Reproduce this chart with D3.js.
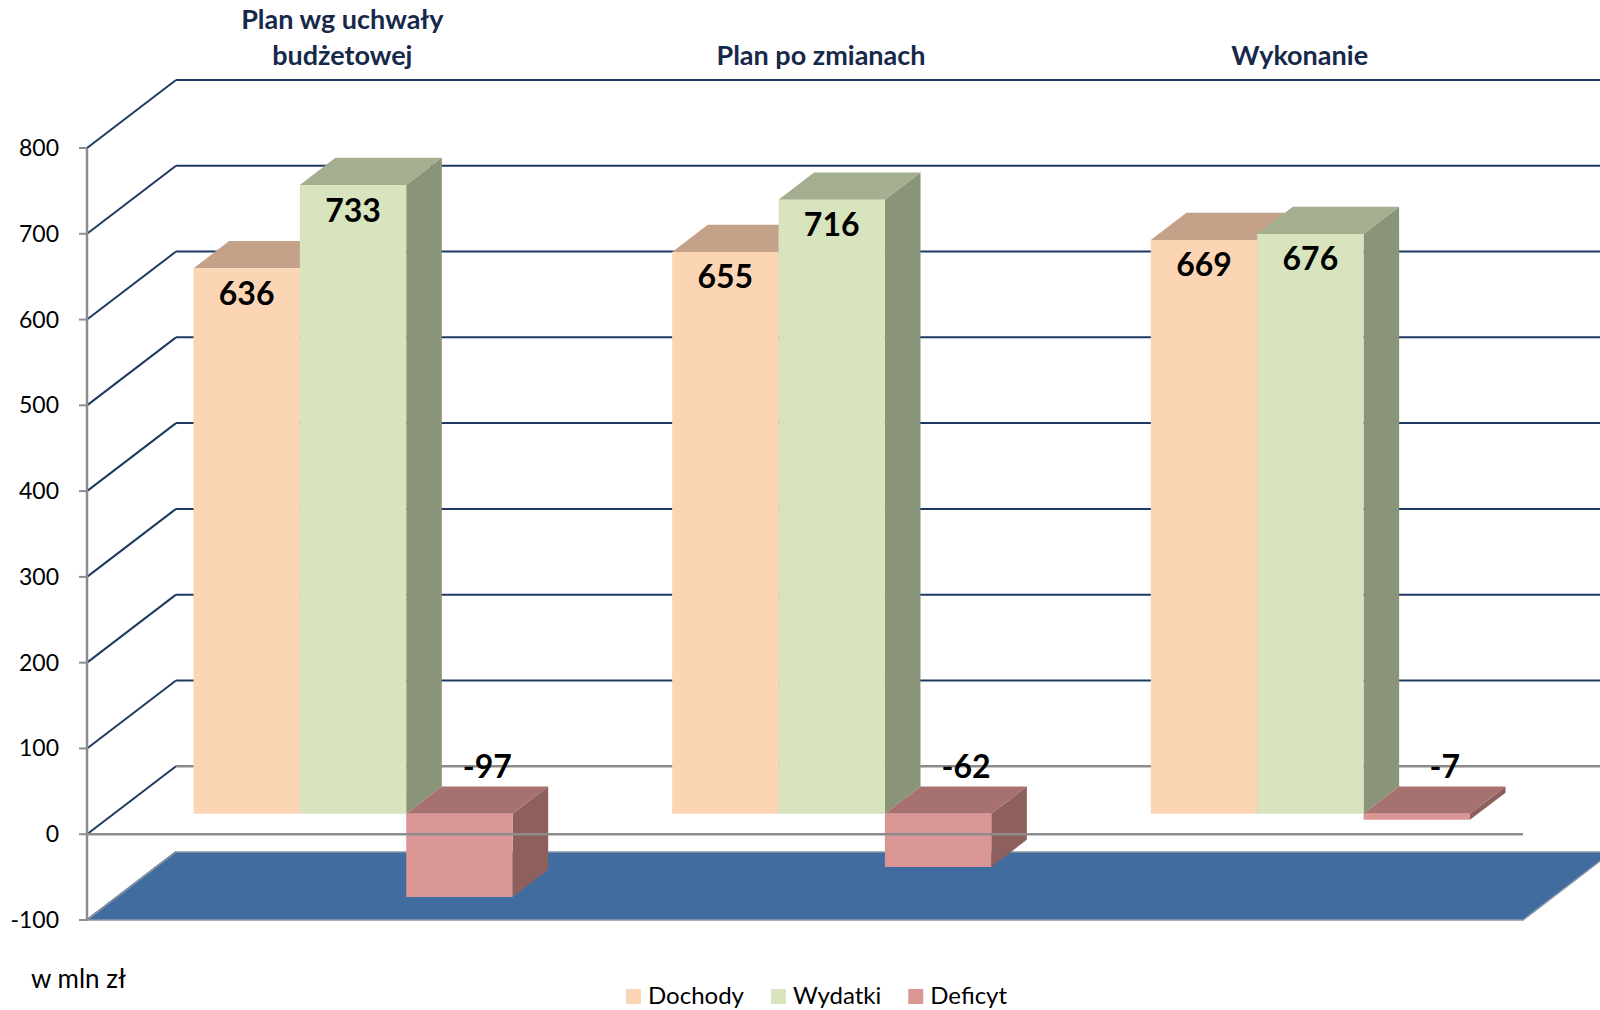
<!DOCTYPE html>
<html>
<head>
<meta charset="utf-8">
<script src="https://cdn.jsdelivr.net/npm/d3@7"></script>
<style>
  body { margin: 0; background: #fff; }
  svg { display: block; font-family: Lato, "Open Sans", sans-serif; }
</style>
</head>
<body>
<div id="canvas"></div>
<script>
// data
var categories = ['Plan wg uchwały\nbudżetowej', 'Plan po zmianach', 'Wykonanie'];
var series = ['Dochody', 'Wydatki', 'Deficyt'];
var dochody = [636, 655, 669];
var wydatki = [733, 716, 676];
var deficyt = [-97, -62, -7];
var yTicks = [-100, 0, 100, 200, 300, 400, 500, 600, 700, 800];

var W = 1600, H = 1010;
var m = {t:148, r:77, b:90, l:87};   // front plane of the plot box
var DX = 89, DY = -68;                // depth offset of the back wall
var Z0 = 0.3, Z1 = 0.7;               // bars sit in the middle of the depth

var colors = {
  Dochody: {front:'#FCD5B5', top:'#C4A28A', side:'#AE8F78'},
  Wydatki: {front:'#D7E4BD', top:'#A3AF8F', side:'#8A9479'},
  Deficyt: {front:'#D99694', top:'#A6716F', side:'#8D5F5D'}
};

var svg = d3.select('#canvas').append('svg')
  .attr('width', W).attr('height', H);

var x = d3.scaleBand().domain(categories).range([m.l, W - m.r]);
var xs = d3.scaleBand().domain(series).range([0, x.bandwidth()]).paddingOuter(0.75);
var y = d3.scaleLinear().domain([-100, 800]).range([H - m.b, m.t]);

function proj(px, py, z) { return [px + z*DX, py + z*DY]; }
function poly(pts) { return pts.map(function(p){ return p.join(','); }).join(' '); }

// walls: left diagonals and back gridlines
var grid = svg.append('g');
yTicks.forEach(function(v) {
  var a = [m.l, y(v)], b = proj(m.l, y(v), 1), c = proj(W - m.r, y(v), 1);
  grid.append('line')
    .attr('x1', a[0]).attr('y1', a[1]).attr('x2', b[0]).attr('y2', b[1])
    .attr('stroke', '#1F3A62').attr('stroke-width', 2);
  if (v > -100) {
    grid.append('line')
      .attr('x1', b[0]).attr('y1', b[1]).attr('x2', c[0]).attr('y2', c[1])
      .attr('stroke', v === 0 ? '#8C8C8C' : '#1F3A62').attr('stroke-width', v === 0 ? 2.5 : 2);
  }
});

// floor
var f0 = y(-100);
svg.append('polygon')
  .attr('points', poly([[m.l, f0], [W - m.r, f0], proj(W - m.r, f0, 1), proj(m.l, f0, 1)]))
  .attr('fill', '#416CA0')
  .attr('stroke', '#8A96A6').attr('stroke-width', 1.5);

// y axis
svg.append('line')
  .attr('x1', m.l).attr('x2', m.l).attr('y1', y(800)).attr('y2', y(-100))
  .attr('stroke', '#8C8C8C').attr('stroke-width', 2.5);
var ticks = svg.append('g');
yTicks.forEach(function(v) {
  ticks.append('line')
    .attr('x1', m.l - 8).attr('x2', m.l).attr('y1', y(v)).attr('y2', y(v))
    .attr('stroke', '#8C8C8C').attr('stroke-width', 2);
  ticks.append('text')
    .attr('x', m.l - 28).attr('y', y(v)).attr('dy', '0.35em')
    .attr('text-anchor', 'end')
    .style('font-size', '23px').style('fill', '#000')
    .text(v);
});

// bars
var rows = [];
categories.forEach(function(c, i) {
  rows.push({cat:c, s:'Dochody', v:dochody[i]});
  rows.push({cat:c, s:'Wydatki', v:wydatki[i]});
  rows.push({cat:c, s:'Deficyt', v:deficyt[i]});
});

var bars = svg.append('g');
rows.forEach(function(d) {
  var x0 = x(d.cat) + xs(d.s), x1 = x0 + xs.bandwidth();
  var yTop = y(Math.max(0, d.v)), yBot = y(Math.min(0, d.v));
  var ft = proj(x0, yTop, Z0), fr = proj(x1, yTop, Z0), frb = proj(x1, yBot, Z0), flb = proj(x0, yBot, Z0);
  var bt = proj(x0, yTop, Z1), br = proj(x1, yTop, Z1), brb = proj(x1, yBot, Z1);
  var col = colors[d.s];
  d.g = bars.append('g');
  d.g.append('polygon').attr('points', poly([fr, br, brb, frb])).attr('fill', col.side);
  d.g.append('polygon').attr('points', poly([ft, fr, br, bt])).attr('fill', col.top);
  d.g.append('polygon').attr('points', poly([ft, fr, frb, flb])).attr('fill', col.front);
  d.front = [(ft[0] + fr[0]) / 2, ft[1]];
  d.backTop = proj((x0 + x1) / 2, yTop, Z1);
});

// front zero line
svg.append('line')
  .attr('x1', m.l).attr('x2', W - m.r).attr('y1', y(0)).attr('y2', y(0))
  .attr('stroke', '#8C8C8C').attr('stroke-width', 2.5);

// value labels
var labels = svg.append('g');
rows.forEach(function(d) {
  var lx, ly;
  if (d.v >= 0) { lx = d.front[0]; ly = d.front[1] + 25; }
  else { lx = d.front[0] + 28; ly = d.backTop[1] - 20; }
  labels.append('text')
    .attr('x', lx).attr('y', ly).attr('dy', '0.36em')
    .attr('text-anchor', 'middle')
    .style('font-size', '32px').style('font-weight', 'bold').style('fill', '#000')
    .text(d.v);
});

// category labels along the top
categories.forEach(function(c) {
  var lines = c.split('\n');
  var t = svg.append('text')
    .attr('text-anchor', 'middle')
    .style('font-size', '27px').style('font-weight', 'bold').style('fill', '#17294A');
  lines.forEach(function(l, k) {
    t.append('tspan')
      .attr('x', x(c) + x.bandwidth() / 2 + 16)
      .attr('y', 65 - (lines.length - 1 - k) * 36)
      .text(l);
  });
});

// unit note
svg.append('text')
  .attr('x', 31).attr('y', 988)
  .style('font-size', '26px').style('fill', '#000')
  .text('w mln zł');

// legend
var legend = svg.append('g').attr('transform', 'translate(626,996)');
var lx = 0;
series.forEach(function(s) {
  legend.append('rect')
    .attr('x', lx).attr('y', -7).attr('width', 15).attr('height', 15)
    .attr('fill', colors[s].front);
  var t = legend.append('text')
    .attr('x', lx + 22).attr('y', 0).attr('dy', '0.35em')
    .style('font-size', '24px').style('fill', '#000')
    .text(s);
  lx += 22 + t.node().getComputedTextLength() + 27;
});
</script>
</body>
</html>
